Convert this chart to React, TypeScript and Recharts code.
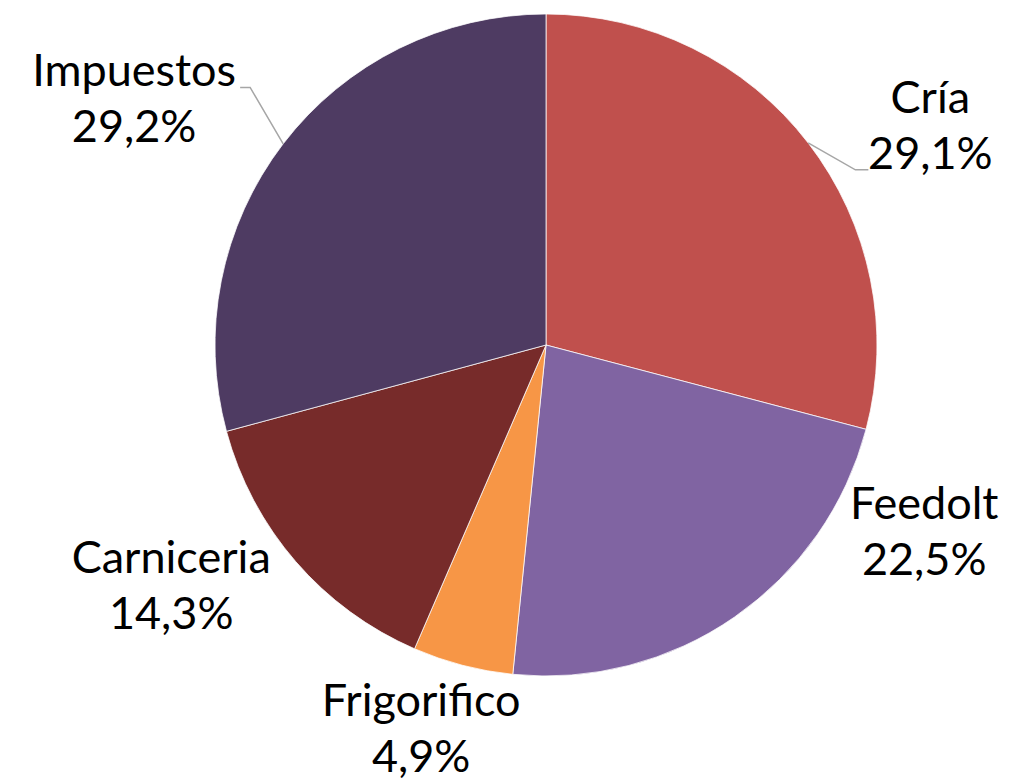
import { PieChart, Pie, Cell } from 'recharts'

const categories = ['Cría', 'Feedolt', 'Frigorifico', 'Carniceria', 'Impuestos']
const shares = [29.1, 22.5, 4.9, 14.3, 29.2]
const colors = ['#C0504D', '#8064A2', '#F79646', '#772B2A', '#4E3B62']

const data = categories.map((name, i) => ({ name, value: shares[i] }))

// best-fit label placement: angle shift (deg, clockwise) and distance from centre
const placement = [
  { shift: 9.7, dist: 435, leader: { end: [-62, 28.5], elbow: [-75, 28.5] } },
  { shift: -27.1, dist: 429 },
  { shift: 2.8, dist: 418 },
  { shift: 6.5, dist: 454 },
  { shift: -8.2, dist: 472, leader: { end: [106, -27], elbow: [116, -27] } },
]

const RAD = Math.PI / 180
const fmtPct = (v: number) => v.toFixed(1).replace('.', ',') + '%'

function renderLabel(props: any) {
  const { cx, cy, midAngle, outerRadius, index, name, value } = props
  const p = placement[index]
  // recharts angle -> clockwise from top
  const theta = 90 - midAngle
  const a = (theta + p.shift) * RAD
  const x = cx + Math.sin(a) * p.dist
  const y = cy - Math.cos(a) * p.dist
  let leader = null
  if (p.leader) {
    const m = theta * RAD
    const sx = cx + Math.sin(m) * outerRadius
    const sy = cy - Math.cos(m) * outerRadius
    const pts = `${sx},${sy} ${x + p.leader.elbow[0]},${y + p.leader.elbow[1]} ${x + p.leader.end[0]},${y + p.leader.end[1]}`
    leader = <polyline points={pts} fill="none" stroke="#A6A6A6" strokeWidth={1.5} />
  }
  return (
    <g key={`lbl-${index}`}>
      {leader}
      <text x={x} y={y} textAnchor="middle" fill="#000" fontSize={45}
        fontFamily="Lato, 'Open Sans', sans-serif">
        <tspan x={x} y={y - 28}>{name}</tspan>
        <tspan x={x} y={y + 28}>{fmtPct(value)}</tspan>
      </text>
    </g>
  )
}

export default function App() {
  return (
    <div style={{ position: 'absolute', left: 0, top: 0, width: 1010, height: 783, background: '#fff' }}>
      <PieChart width={1010} height={783} margin={{ top: 0, right: 0, bottom: 0, left: 0 }}>
        <Pie data={data} dataKey="value" nameKey="name" cx={546} cy={345} outerRadius={331}
          startAngle={90} endAngle={-270} stroke="#ffffff" strokeWidth={0.75}
          label={renderLabel} labelLine={false} isAnimationActive={false}>
          {data.map((d, i) => <Cell key={d.name} fill={colors[i]} />)}
        </Pie>
      </PieChart>
    </div>
  )
}
